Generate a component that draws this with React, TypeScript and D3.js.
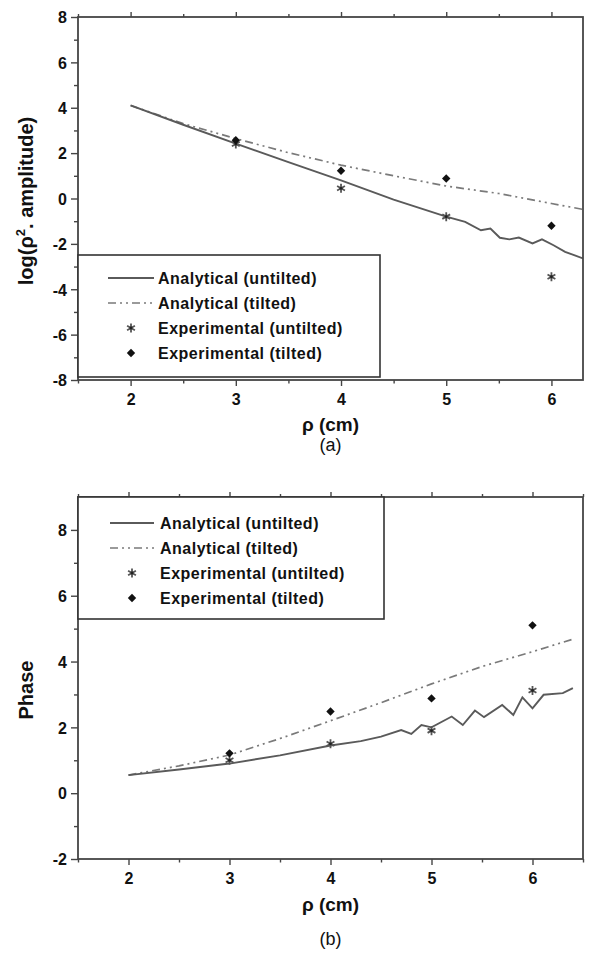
import React, { useRef, useEffect } from 'react';
import { select, scaleLinear, axisLeft, axisBottom, axisTop, line } from 'd3';

// panel (a): log(rho^2 . amplitude)
const ampRho = [2.0, 2.5, 3.0, 3.5, 4.0, 4.5, 5.0, 5.18, 5.33, 5.42, 5.51, 5.6, 5.69, 5.82, 5.91, 6.02, 6.13, 6.3];
const ampUntilted = [4.1, 3.25, 2.42, 1.6, 0.8, -0.05, -0.8, -1.03, -1.4, -1.32, -1.73, -1.8, -1.72, -1.98, -1.8, -2.06, -2.35, -2.64];
const ampTiltRho = [2.0, 2.5, 3.0, 3.5, 4.0, 4.5, 5.0, 5.5, 6.0, 6.3];
const ampTilted = [4.1, 3.3, 2.64, 2.02, 1.47, 1.0, 0.55, 0.22, -0.22, -0.48];
const expRho = [3, 4, 5, 6];
const ampExpUntilted = [2.4, 0.45, -0.8, -3.45];
const ampExpTilted = [2.57, 1.22, 0.88, -1.2];

// panel (b): phase
const phRho = [2.0, 2.5, 3.0, 3.5, 4.0, 4.3, 4.5, 4.7, 4.8, 4.9, 5.0, 5.2, 5.31, 5.43, 5.52, 5.7, 5.81, 5.9, 6.0, 6.11, 6.3, 6.4];
const phUntilted = [0.55, 0.72, 0.9, 1.15, 1.45, 1.58, 1.72, 1.92, 1.8, 2.07, 2.0, 2.33, 2.07, 2.51, 2.31, 2.68, 2.38, 2.91, 2.58, 2.99, 3.04, 3.19];
const phTiltRho = [2.0, 2.5, 3.0, 3.5, 4.0, 4.5, 5.0, 5.5, 6.0, 6.4];
const phTilted = [0.55, 0.83, 1.16, 1.66, 2.2, 2.75, 3.32, 3.85, 4.3, 4.68];
const phExpUntilted = [1.0, 1.5, 1.9, 3.12];
const phExpTilted = [1.21, 2.48, 2.88, 5.1];

const xTicks = [2, 3, 4, 5, 6];
const xMinor = [1.5, 2.5, 3.5, 4.5, 5.5];
const ampTicks = [-8, -6, -4, -2, 0, 2, 4, 6, 8];
const ampMinor = [-7, -5, -3, -1, 1, 3, 5, 7];
const phTicks = [-2, 0, 2, 4, 6, 8];
const phMinor = [-1, 1, 3, 5, 7];
const legendLabels = ['Analytical (untilted)', 'Analytical (tilted)', 'Experimental (untilted)', 'Experimental (tilted)'];

const FONT = '"Liberation Sans", Arial, sans-serif';
const AXIS = '#454545';

const zip = (xs, ys) => xs.map((x, i) => [x, ys[i]]);

// asterisk-like marker used for the untilted measurements
function star(g, x, y) {
  const r = 4.5;
  const dx = r * 0.87, dy = r * 0.5;
  g.append('path')
    .attr('d', `M${x},${y - r}L${x},${y + r}M${x - dx},${y - dy}L${x + dx},${y + dy}M${x + dx},${y - dy}L${x - dx},${y + dy}`)
    .attr('stroke', '#555')
    .attr('stroke-width', 1.8)
    .attr('fill', 'none');
  g.append('circle').attr('cx', x).attr('cy', y).attr('r', 1.4).attr('fill', '#222');
}

function diamond(g, x, y) {
  const r = 4.2;
  g.append('path')
    .attr('d', `M${x},${y - r}L${x + r},${y}L${x},${y + r}L${x - r},${y}Z`)
    .attr('fill', '#111');
}

function drawPanel(svg, cfg) {
  const { left, right, top, bottom } = cfg;
  const x = scaleLinear().domain(cfg.xDomain).range([left, right]);
  const y = scaleLinear().domain(cfg.yDomain).range([bottom, top]);
  const g = svg.append('g');

  // ticks
  const styleAxis = (sel) => {
    sel.select('.domain').remove();
    sel.selectAll('line').attr('stroke', AXIS).attr('stroke-width', 1.4);
    sel.selectAll('text')
      .attr('font-family', FONT)
      .attr('font-weight', 'bold')
      .attr('font-size', 16)
      .attr('fill', '#111');
  };

  g.append('g').attr('transform', `translate(${left},0)`)
    .call(axisLeft(y).tickValues(cfg.yTicks).tickSize(7).tickPadding(4).tickFormat((d) => String(d)))
    .call(styleAxis)
    .selectAll('text').attr('dy', '0.36em');
  g.append('g').attr('transform', `translate(${left},0)`)
    .call(axisLeft(y).tickValues(cfg.yMinor).tickSize(4).tickFormat(() => ''))
    .call(styleAxis);

  g.append('g').attr('transform', `translate(0,${bottom})`)
    .call(axisBottom(x).tickValues(xTicks).tickSize(6).tickPadding(8).tickFormat((d) => String(d)))
    .call(styleAxis);
  g.append('g').attr('transform', `translate(0,${bottom})`)
    .call(axisBottom(x).tickValues(cfg.xMinor).tickSize(3.5).tickFormat(() => ''))
    .call(styleAxis);
  g.append('g').attr('transform', `translate(0,${top})`)
    .call(axisTop(x).tickValues(xTicks).tickSize(5).tickFormat(() => ''))
    .call(styleAxis);
  g.append('g').attr('transform', `translate(0,${top})`)
    .call(axisTop(x).tickValues(cfg.xMinor).tickSize(3).tickFormat(() => ''))
    .call(styleAxis);

  // curves
  const clipId = `clip-${cfg.id}`;
  g.append('clipPath').attr('id', clipId)
    .append('rect').attr('x', left).attr('y', top).attr('width', right - left).attr('height', bottom - top);
  const path = line().x((d) => x(d[0])).y((d) => y(d[1]));
  const plot = g.append('g').attr('clip-path', `url(#${clipId})`);
  plot.append('path').datum(zip(cfg.tiltRho, cfg.tilted))
    .attr('d', path).attr('fill', 'none')
    .attr('stroke', '#7a7a7a').attr('stroke-width', 1.7)
    .attr('stroke-dasharray', '8,4,2,4,2,4');
  plot.append('path').datum(zip(cfg.rho, cfg.untilted))
    .attr('d', path).attr('fill', 'none')
    .attr('stroke', '#5a5a5a').attr('stroke-width', 1.9);

  expRho.forEach((r, i) => star(plot, x(r), y(cfg.expUntilted[i])));
  expRho.forEach((r, i) => diamond(plot, x(r), y(cfg.expTilted[i])));

  // frame
  g.append('rect')
    .attr('x', left).attr('y', top).attr('width', right - left).attr('height', bottom - top)
    .attr('fill', 'none').attr('stroke', AXIS).attr('stroke-width', 1.8);

  // legend
  const lg = cfg.legend;
  const leg = g.append('g');
  leg.append('rect')
    .attr('x', left).attr('y', lg.top).attr('width', lg.right - left).attr('height', lg.bottom - lg.top)
    .attr('fill', 'white').attr('stroke', '#333').attr('stroke-width', 1.6);
  legendLabels.forEach((lab, i) => {
    const ry = lg.rows[i];
    if (i === 0) {
      leg.append('line').attr('x1', lg.x1).attr('x2', lg.x2).attr('y1', ry).attr('y2', ry)
        .attr('stroke', '#5a5a5a').attr('stroke-width', 1.9);
    } else if (i === 1) {
      leg.append('line').attr('x1', lg.x1).attr('x2', lg.x2).attr('y1', ry).attr('y2', ry)
        .attr('stroke', '#7a7a7a').attr('stroke-width', 1.7)
        .attr('stroke-dasharray', '8,4,2,4,2,4');
    } else if (i === 2) {
      star(leg, (lg.x1 + lg.x2) / 2, ry);
    } else {
      diamond(leg, (lg.x1 + lg.x2) / 2, ry);
    }
    leg.append('text')
      .attr('x', lg.tx).attr('y', ry).attr('dy', '0.36em')
      .attr('font-family', FONT).attr('font-weight', 'bold').attr('font-size', 16)
      .attr('letter-spacing', 0.5).attr('fill', '#111')
      .text(lab);
  });

  // axis titles
  const cx = (left + right) / 2;
  g.append('text').attr('x', cx).attr('y', cfg.xTitleY).attr('text-anchor', 'middle')
    .attr('font-family', FONT).attr('font-weight', 'bold').attr('font-size', 19).attr('fill', '#111')
    .text('ρ (cm)');
  g.append('text').attr('x', cx).attr('y', cfg.captionY).attr('text-anchor', 'middle')
    .attr('font-family', FONT).attr('font-size', 18).attr('fill', '#111')
    .text(cfg.caption);

  const yt = g.append('text')
    .attr('transform', `translate(33,${cfg.yTitleY}) rotate(-90)`)
    .attr('text-anchor', 'middle')
    .attr('font-family', FONT).attr('font-weight', 'bold').attr('font-size', 20).attr('fill', '#111');
  cfg.yTitle(yt);
}

export default function App() {
  const svgRef = useRef(null);

  useEffect(() => {
    const svg = select(svgRef.current);
    svg.selectAll('*').remove();

    drawPanel(svg, {
      id: 'a', left: 78, right: 583, top: 17, bottom: 380,
      xDomain: [1.5, 6.3], yDomain: [-8, 8], yTicks: ampTicks, yMinor: ampMinor, xMinor: xMinor.concat([]),
      rho: ampRho, untilted: ampUntilted, tiltRho: ampTiltRho, tilted: ampTilted,
      expUntilted: ampExpUntilted, expTilted: ampExpTilted,
      legend: { top: 255, bottom: 377, right: 380, rows: [278, 303, 328, 353], x1: 108, x2: 154, tx: 158 },
      xTitleY: 431, captionY: 451, caption: '(a)', yTitleY: 201,
      yTitle: (t) => {
        t.append('tspan').text('log(ρ');
        t.append('tspan').attr('font-size', 13).attr('dy', -8).text('2');
        t.append('tspan').attr('dy', 8).text('. amplitude)');
      },
    });

    drawPanel(svg, {
      id: 'b', left: 78, right: 583, top: 497, bottom: 859,
      xDomain: [1.5, 6.5], yDomain: [-2, 9], yTicks: phTicks, yMinor: phMinor, xMinor: xMinor.concat([6.5]),
      rho: phRho, untilted: phUntilted, tiltRho: phTiltRho, tilted: phTilted,
      expUntilted: phExpUntilted, expTilted: phExpTilted,
      legend: { top: 497, bottom: 619, right: 384, rows: [523, 548, 573, 598], x1: 110, x2: 154, tx: 160 },
      xTitleY: 911, captionY: 945, caption: '(b)', yTitleY: 690,
      yTitle: (t) => t.text('Phase'),
    });
  }, []);

  return (
    <div style={{ position: 'absolute', left: 0, top: 0 }}>
      <svg ref={svgRef} width={600} height={960} style={{ display: 'block', background: 'white' }} />
    </div>
  );
}
